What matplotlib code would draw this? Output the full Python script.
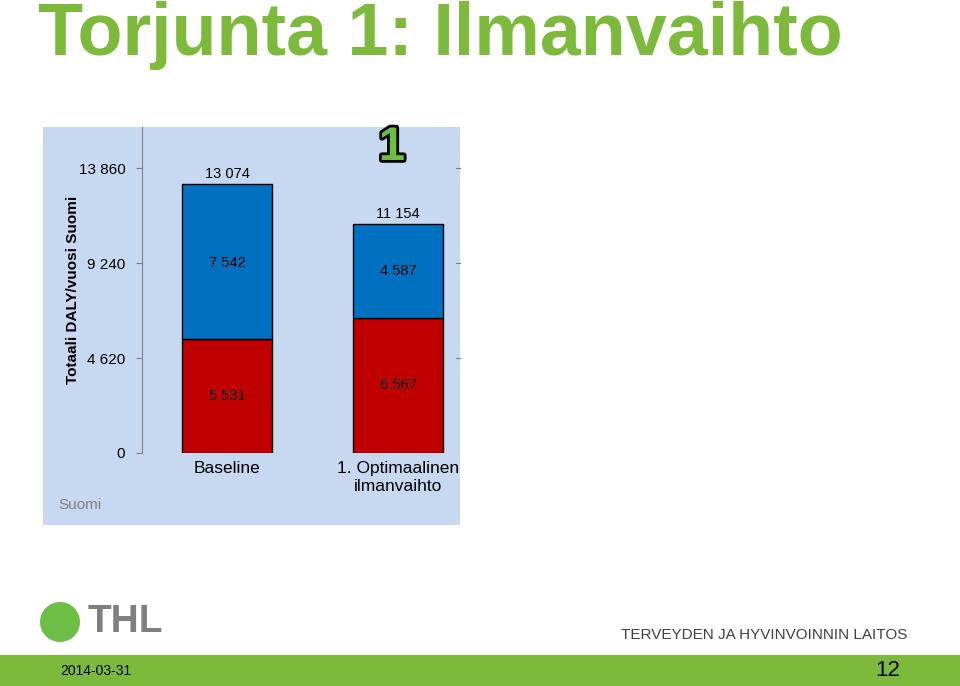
import matplotlib
matplotlib.use("Agg")
import matplotlib.pyplot as plt
import matplotlib.patheffects as pe
from matplotlib.patches import Rectangle, Ellipse

plt.rcParams['font.family'] = ['Liberation Sans', 'DejaVu Sans']

categories = ["Baseline", "1. Optimaalinen\nilmanvaihto"]
red_vals = [5531, 6567]
blue_vals = [7542, 4587]
totals = [13074, 11154]
yticks = [0, 4620, 9240, 13860]
ytick_labels = ["0", "4 620", "9 240", "13 860"]

def fmt(v):
    return f"{v:,}".replace(",", " ")

W, H = 960, 686
fig = plt.figure(figsize=(9.6, 6.86), dpi=100)
fig.patch.set_facecolor("white")

def fx(x): return x / W
def fy(y): return 1 - y / H

bg = Rectangle((fx(43), fy(525)), fx(460) - fx(43), fy(127) - fy(525),
               transform=fig.transFigure, facecolor="#C6D9F1", edgecolor="none", zorder=-5)
fig.patches.append(bg)
fig.text(fx(38), fy(35), "Torjunta 1: Ilmanvaihto", fontsize=53, fontweight="bold",
         color="#7DBA3C", va="center", ha="left")

ax = fig.add_axes([fx(142), fy(453), fx(460) - fx(142), fy(127) - fy(453)], zorder=2)
ax.set_facecolor("none")
x = [0, 1]
bw = 0.526
ax.bar(x, red_vals, width=bw, color="#C00000", edgecolor="black", linewidth=1, zorder=3)
ax.bar(x, blue_vals, bottom=red_vals, width=bw, color="#0070C0", edgecolor="black", linewidth=1, zorder=3)
ax.set_xlim(-0.497, 1.363)
ax.set_ylim(0, 15854)
for s in ["top", "right", "bottom"]:
    ax.spines[s].set_visible(False)
ax.spines["left"].set_color("#808080")
ax.set_yticks(yticks)
ax.set_yticklabels(ytick_labels, fontsize=11)
ax.tick_params(axis="y", length=4, color="#808080", pad=8)
for t in yticks[1:]:
    ax.plot([1.34, 1.363], [t, t], color="#808080", lw=0.8, clip_on=False)
ax.set_xticks(x)
ax.set_xticklabels(categories, fontsize=12.5)
ax.tick_params(axis="x", length=0, pad=6)
ax.set_ylabel("Totaali DALY/vuosi Suomi", fontsize=11, fontweight="bold")
ax.yaxis.set_label_coords(-0.195, 0.5)

for i in range(2):
    ax.text(x[i], red_vals[i] + blue_vals[i] + 150, fmt(totals[i]), ha="center", va="bottom", fontsize=10.5, zorder=5)
ax.text(0, 9240, fmt(blue_vals[0]), ha="center", va="center", fontsize=10.5, zorder=5)
ax.text(1, 8850, fmt(blue_vals[1]), ha="center", va="center", fontsize=10.5, zorder=5)
ax.text(0, 2750, fmt(red_vals[0]), ha="center", va="center", fontsize=10.5, zorder=5)
ax.text(1, 3300, fmt(red_vals[1]), ha="center", va="center", fontsize=10.5, zorder=5)

fig.text(fx(80), fy(505), "Suomi", fontsize=11, color="#7F7F7F", ha="center", va="center")
fig.text(fx(392), fy(148), "1", fontsize=34, fontweight="bold", color="#6DBE45", ha="center", va="center",
         path_effects=[pe.withStroke(linewidth=4, foreground="black")])

fig.patches.append(Ellipse((fx(60), fy(622)), fx(40), 40 / H, transform=fig.transFigure,
                           facecolor="#6DBE45", edgecolor="none"))
fig.text(fx(88), fy(622), "THL", fontsize=28, fontweight="bold", color="#7F7F7F", ha="left", va="center")
fig.text(fx(907), fy(635), "TERVEYDEN JA HYVINVOINNIN LAITOS", fontsize=11, color="#404040",
         ha="right", va="center")

fig.patches.append(Rectangle((0, 0), 1, fy(655), transform=fig.transFigure,
                             facecolor="#7DBA3C", edgecolor="none"))
fig.text(fx(60), fy(671), "2014-03-31", fontsize=10, ha="left", va="center")
fig.text(fx(900), fy(671), "12", fontsize=16, ha="right", va="center")

fig.savefig("out.png", dpi=100)
